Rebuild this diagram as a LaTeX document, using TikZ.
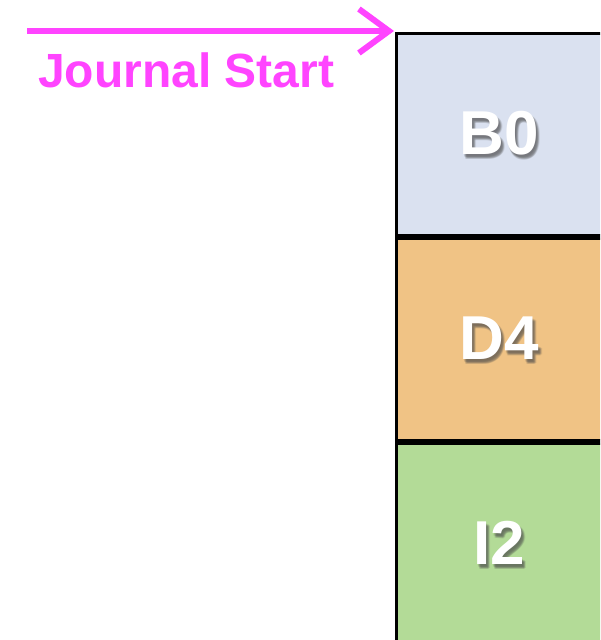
\documentclass[tikz,border=0pt]{standalone}
\usepackage{fontspec}
\setmainfont{Liberation Sans}
\usetikzlibrary{arrows.meta}
\definecolor{jmag}{HTML}{FF44FF}
\definecolor{fillB}{HTML}{DAE1F0}
\definecolor{fillD}{HTML}{F0C385}
\definecolor{fillI}{HTML}{B3DB97}
\tikzset{
  blockbox/.style={draw=black, line width=3pt},
  blocklabel/.style={text=white, font=\fontsize{62}{62}\selectfont\bfseries, inner sep=0pt},
  shadowlabel/.style={text=black!70, opacity=0.12, font=\fontsize{62}{62}\selectfont\bfseries, inner sep=0pt},
  startarrow/.style={draw=jmag, line width=6pt, -{Straight Barb[length=30pt, width=44pt, line width=6pt]}},
  startlabel/.style={text=jmag, font=\fontsize{48}{48}\selectfont\bfseries, inner sep=0pt, anchor=base west}
}
\newcommand{\shadowedlabel}[3]{%
  \foreach \dx/\dy in {1/2,2/3,3/4,2/4,3/3,1/3,3/5,4/4,2/5}{
    \node[shadowlabel] at ([xshift=\dx pt, yshift=-\dy pt]#2) {#3};
  }
  \node[blocklabel] (#1) at (#2) {#3};
}
\begin{document}
\begin{tikzpicture}[x=1pt,y=-1pt]
\useasboundingbox (0,0) rectangle (600,640);
\clip (0,0) rectangle (600,640);
\fill[white] (0,0) rectangle (600,640);
% blocks
\draw[blockbox, fill=fillB] (396,33) rectangle (606,235);
\draw[blockbox, fill=fillD] (396,238) rectangle (606,440);
\draw[blockbox, fill=fillI] (396,443) rectangle (606,650);
\coordinate (bc) at (499,133);
\coordinate (dc) at (499,338);
\coordinate (ic) at (499,543);
\shadowedlabel{lb}{bc}{B0}
\shadowedlabel{ld}{dc}{D4}
\shadowedlabel{li}{ic}{I2}
% journal start arrow
\coordinate (js) at (27,31);
\coordinate (jt) at (394,31);
\draw[startarrow] (js) -- (jt);
\node[startlabel] (jl) at (38,87) {Journal Start};
\end{tikzpicture}
\end{document}
